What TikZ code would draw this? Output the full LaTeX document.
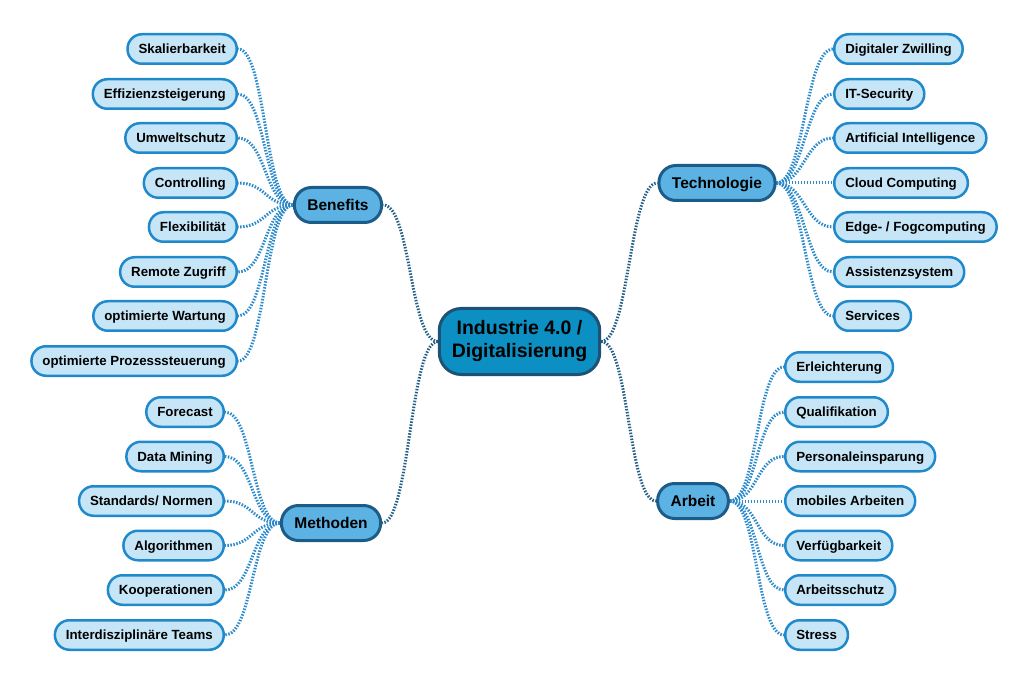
\documentclass[tikz,border=0pt]{standalone}
\usepackage{fontspec}
\setmainfont{Liberation Sans}
\usetikzlibrary{backgrounds}
\definecolor{centerfill}{HTML}{0C8FC2}
\definecolor{centerdraw}{HTML}{1E5274}
\definecolor{branchfill}{HTML}{5BB2E3}
\definecolor{branchdraw}{HTML}{1C5C88}
\definecolor{leaffill}{HTML}{C6E6F8}
\definecolor{leafdraw}{HTML}{1F89CB}
\definecolor{leafline}{HTML}{2A8ACB}
\definecolor{mainline}{HTML}{245F88}
\tikzset{
  centernode/.style={draw=centerdraw, fill=centerfill, line width=3pt, rounded corners=22pt,
    minimum height=66pt, inner xsep=12.5pt, inner ysep=4pt, align=center,
    font=\fontsize{19.5}{23}\selectfont\bfseries},
  branchnode/.style={draw=branchdraw, fill=branchfill, line width=3pt, rounded corners=17pt,
    minimum height=35pt, inner xsep=13pt, inner ysep=2pt, text height=11.1pt, text depth=0pt,
    font=\fontsize{15.5}{18}\selectfont\bfseries},
  leafnode/.style={draw=leafdraw, fill=leaffill, line width=2.5pt, rounded corners=14.5pt,
    minimum height=29.5pt, inner xsep=11pt, inner ysep=2pt, text height=9.6pt, text depth=0pt,
    font=\fontsize{13.3}{16}\selectfont\bfseries},
  leafconn/.style={draw=leafline, line width=3pt, dash pattern=on 1.5pt off 1.5pt},
  mainconn/.style={draw=mainline, line width=3pt, dash pattern=on 1.5pt off 1.5pt}
}
\begin{document}
\begin{tikzpicture}[x=1pt,y=-1pt]
\useasboundingbox (0,0) rectangle (1030,684);
% center and branches
\node[centernode] (c) at (519.5,341.5) {Industrie 4.0 /\\Digitalisierung};
\node[branchnode] (ben) at (338,205) {Benefits};
\node[branchnode] (tec) at (717,183) {Technologie};
\node[branchnode] (met) at (331,523) {Methoden};
\node[branchnode] (arb) at (693,501) {Arbeit};
% Benefits leaves
\foreach \i/\y/\t in {1/49/Skalierbarkeit, 2/94/Effizienzsteigerung, 3/138/Umweltschutz,
  4/183/Controlling, 5/227/Flexibilität, 6/272/Remote Zugriff, 7/316/optimierte Wartung,
  8/361/optimierte Prozesssteuerung}
  \node[leafnode, anchor=east] (b\i) at (238,\y) {\t};
% Methoden leaves
\foreach \i/\y/\t in {1/412/Forecast, 2/456.5/Data Mining, 3/501/{Standards/ Normen},
  4/545.5/Algorithmen, 5/590/Kooperationen, 6/635/Interdisziplinäre Teams}
  \node[leafnode, anchor=east] (m\i) at (225,\y) {\t};
% Technologie leaves
\foreach \i/\y/\t in {1/49/Digitaler Zwilling, 2/94/IT-Security, 3/138/Artificial Intelligence,
  4/183/Cloud Computing, 5/227/{Edge- / Fogcomputing}, 6/272/Assistenzsystem, 7/316/Services}
  \node[leafnode, anchor=west] (t\i) at (833,\y) {\t};
% Arbeit leaves
\foreach \i/\y/\t in {1/367/Erleichterung, 2/412/Qualifikation, 3/456.5/Personaleinsparung,
  4/501/mobiles Arbeiten, 5/545.5/Verfügbarkeit, 6/590/Arbeitsschutz, 7/635/Stress}
  \node[leafnode, anchor=west] (a\i) at (784,\y) {\t};
% connectors
\begin{scope}[on background layer]
  \draw[mainconn] (c.west) .. controls +(-28,0) and +(28,0) .. (ben.east);
  \draw[mainconn] (c.west) .. controls +(-28,0) and +(28,0) .. (met.east);
  \draw[mainconn] (c.east) .. controls +(28,0) and +(-28,0) .. (tec.west);
  \draw[mainconn] (c.east) .. controls +(28,0) and +(-28,0) .. (arb.west);
  \foreach \i in {1,...,8}
    \draw[leafconn] (ben.west) .. controls +(-28,0) and +(28,0) .. (b\i.east);
  \foreach \i in {1,...,6}
    \draw[leafconn] (met.west) .. controls +(-28,0) and +(28,0) .. (m\i.east);
  \foreach \i in {1,...,7}
    \draw[leafconn] (tec.east) .. controls +(28,0) and +(-28,0) .. (t\i.west);
  \foreach \i in {1,...,7}
    \draw[leafconn] (arb.east) .. controls +(28,0) and +(-28,0) .. (a\i.west);
\end{scope}
\end{tikzpicture}
\end{document}
